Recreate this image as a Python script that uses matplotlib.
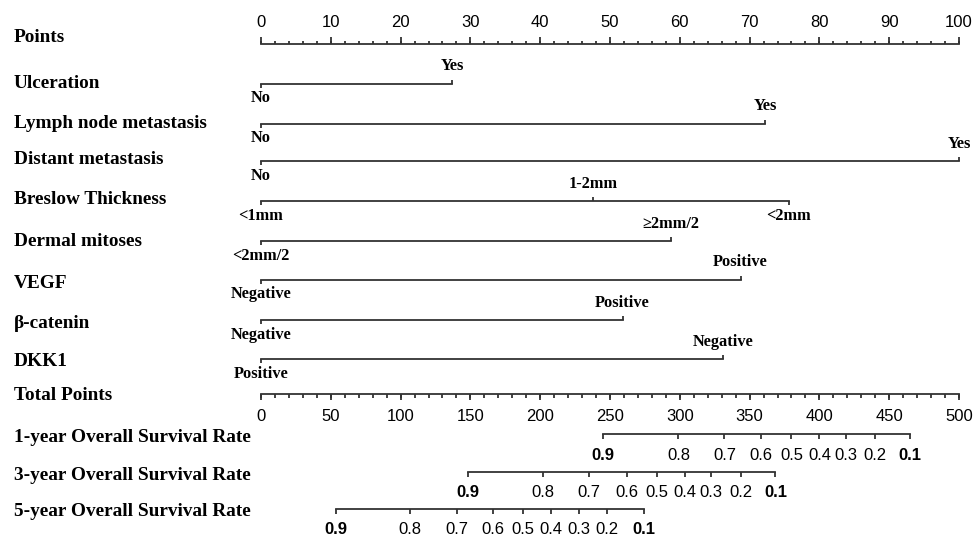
import matplotlib
matplotlib.use('Agg')
import matplotlib.pyplot as plt

# scales
points_major = list(range(0, 101, 10))
points_minor = list(range(0, 101, 2))
total_major = list(range(0, 501, 50))
total_minor = list(range(0, 501, 10))

# predictors, their levels and points
predictors = ['Ulceration', 'Lymph node metastasis', 'Distant metastasis',
              'Breslow Thickness', 'Dermal mitoses', 'VEGF', 'β-catenin', 'DKK1']
levels = [['No', 'Yes'], ['No', 'Yes'], ['No', 'Yes'],
          ['<1mm', '1-2mm', '<2mm'], ['<2mm/2', '≥2mm/2'],
          ['Negative', 'Positive'], ['Negative', 'Positive'], ['Positive', 'Negative']]
level_points = [[0, 27.4], [0, 72.2], [0, 100], [0, 47.6, 75.6], [0, 58.7],
                [0, 68.7], [0, 51.8], [0, 66.2]]

# survival scales (position in total points)
surv_names = ['1-year Overall Survival Rate', '3-year Overall Survival Rate',
              '5-year Overall Survival Rate']
surv_labels = ['0.9', '0.8', '0.7', '0.6', '0.5', '0.4', '0.3', '0.2', '0.1']
surv_1y = [245, 299, 332, 358, 380, 400, 419, 440, 465]
surv_3y = [148, 202, 235, 262, 283.5, 303.5, 322.5, 343.5, 368.5]
surv_5y = [53.5, 107, 140.5, 166, 187.5, 208, 228, 248, 274.5]

# layout (y in pixels from top)
row_y = [83.5, 123.5, 161, 200.5, 240.5, 279.5, 320, 359]
label_y = [83, 124, 160, 200, 241, 284, 323, 361]
points_y = 43.5
total_y = 394
surv_y = [434, 471.5, 509]
surv_label_y = [438, 475, 512]

SERIF = 'Liberation Serif'
SANS = 'Liberation Sans'
LC = '#333333'
LW = 1.3

fig = plt.figure(figsize=(9.74, 5.4), dpi=100)
ax = fig.add_axes([0, 0, 1, 1])
ax.set_xlim((0 - 261) / 6.98, (974 - 261) / 6.98)
ax.set_ylim(540, 0)
ax.axis('off')

lab_x = (14 - 261) / 6.98


def left_label(y, text):
    ax.text(lab_x, y, text, family=SERIF, weight='bold', fontsize=13.9,
            va='center', ha='left')


# Points axis
left_label(37.5, 'Points')
ax.plot([0, 100], [points_y, points_y], color=LC, lw=LW)
ax.vlines(points_minor, points_y - 3, points_y, color=LC, lw=LW)
ax.vlines(points_major, points_y - 7, points_y, color=LC, lw=LW)
for p in points_major:
    ax.text(p, 22.5, str(p), family=SANS, fontsize=12, ha='center', va='center')

# predictor rows
for name, lv, pts, y, ly in zip(predictors, levels, level_points, row_y, label_y):
    left_label(ly, name)
    ax.plot([min(pts), max(pts)], [y, y], color=LC, lw=LW)
    for i, (l, p) in enumerate(zip(lv, pts)):
        if i % 2 == 0:
            ax.vlines(p, y, y + 4, color=LC, lw=LW)
            ax.text(p, y + 15, l, family=SERIF, weight='bold', fontsize=11.8,
                    ha='center', va='center')
        else:
            ax.vlines(p, y - 4, y, color=LC, lw=LW)
            ax.text(p, y - 17, l, family=SERIF, weight='bold', fontsize=11.8,
                    ha='center', va='center')

# Total points axis
left_label(395.5, 'Total Points')
tot_major = [t / 5 for t in total_major]
tot_minor = [t / 5 for t in total_minor]
ax.plot([0, 100], [total_y, total_y], color=LC, lw=LW)
ax.vlines(tot_minor, total_y, total_y + 3.5, color=LC, lw=LW)
ax.vlines(tot_major, total_y, total_y + 6, color=LC, lw=LW)
for t, x in zip(total_major, tot_major):
    ax.text(x, 416.5, str(t), family=SANS, fontsize=12, ha='center', va='center')

# survival axes
for name, vals, y, ly in zip(surv_names, [surv_1y, surv_3y, surv_5y], surv_y, surv_label_y):
    left_label(ly, name)
    xs = [v / 5 for v in vals]
    ax.plot([xs[0], xs[-1]], [y, y], color=LC, lw=LW)
    ax.vlines(xs, y, y + 5, color=LC, lw=LW)
    for i, (lab, x) in enumerate(zip(surv_labels, xs)):
        bold = i in (0, len(xs) - 1)
        ax.text(x, y + 21, lab, family=SANS, fontsize=12,
                weight='bold' if bold else 'normal', ha='center', va='center')

fig.savefig('out.png', dpi=100)
